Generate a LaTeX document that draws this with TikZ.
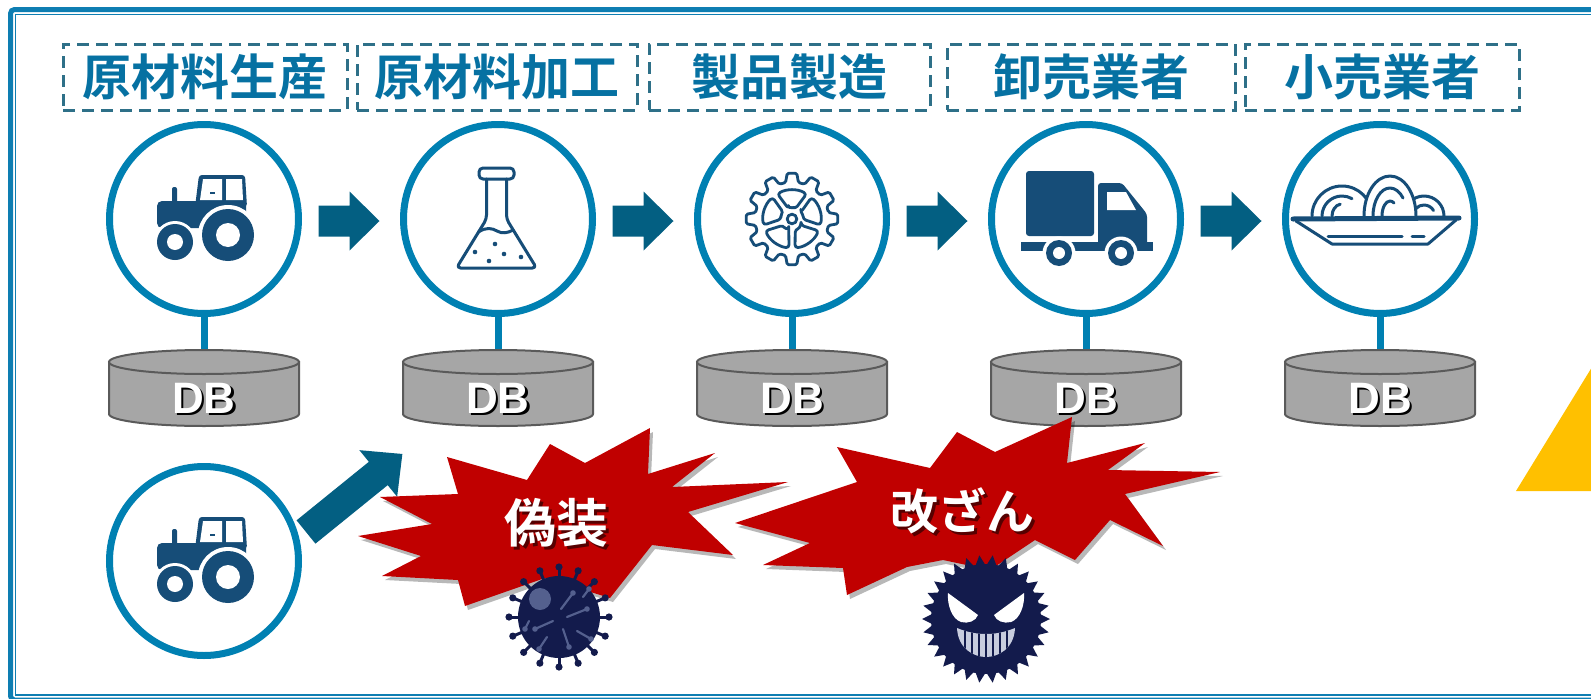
\documentclass[tikz,border=0pt]{standalone}
\usepackage{fontspec}
\usetikzlibrary{calc}
\newfontfamily\jpfont{Noto Sans CJK JP}[BoldFont={* Bold}]
\newfontfamily\dbfont{Liberation Sans}

\definecolor{framec}{RGB}{14,126,178}
\definecolor{circc}{RGB}{0,128,178}
\definecolor{hdrc}{RGB}{6,113,162}
\definecolor{dashc}{RGB}{46,112,136}
\definecolor{arrowc}{RGB}{3,95,130}
\definecolor{iconc}{RGB}{22,77,120}
\definecolor{dbfill}{RGB}{166,166,166}
\definecolor{dbline}{RGB}{90,90,90}
\definecolor{burstc}{RGB}{192,0,0}
\definecolor{virusc}{RGB}{19,27,76}
\definecolor{virusl}{RGB}{84,96,142}
\definecolor{teethc}{RGB}{200,205,222}
\definecolor{warnc}{RGB}{255,192,0}

\tikzset{
  iconline/.style={draw=iconc,line width=3pt,line cap=round,line join=round},
  % tractor: small front wheel left, big rear wheel right
  tractor/.pic={
    \fill[iconc,rounded corners=2pt] (-32,-32) rectangle (-27,-14);
    \fill[iconc,rounded corners=5pt] (-47,-18) rectangle (42,9);
    \fill[iconc,rounded corners=3pt] (-5,-44) -- (41,-44) -- (43,-12) -- (-9,-12) -- cycle;
    \fill[white] (-1,-40) -- (18,-40) -- (18,-19) -- (-4,-19) -- cycle;
    \fill[white] (22,-40) -- (38,-40) -- (39,-19) -- (22,-19) -- cycle;
    \draw[iconc,line width=1.6pt] (6,-26) -- (11,-26);
    \fill[white] (24,16) circle[radius=30];
    \fill[iconc] (24,16) circle[radius=26];
    \fill[white] (24,16) circle[radius=12];
    \fill[white] (-29,23) circle[radius=21];
    \fill[iconc] (-29,23) circle[radius=18];
    \fill[white] (-29,23) circle[radius=8];
  },
  % conical flask with liquid
  flask/.pic={
    \draw[iconline,rounded corners=4pt] (-19,-51) rectangle (16,-40);
    \draw[iconline,rounded corners=4pt] (-11.5,-40) -- (-11.5,0) -- (-41.5,49) -- (38.5,49) -- (8.5,0) -- (8.5,-40);
    \draw[iconline] (-19.5,13) .. controls (-12,8) and (-6,9) .. (-1,12) .. controls (4,15) and (10,14) .. (15,11);
    \foreach \u/\v in {-23/33,-3/25,6/35,23/38,-9/42}
      \fill[iconc] (\u,\v) circle[radius=2.3];
  },
  % gear with five windows
  gear/.pic={
    \draw[iconline,line width=2.8pt,rounded corners=1.5pt] (-10:37)
      \foreach \a in {0,30,...,330}{ -- ({\a-10}:37) -- ({\a-6}:46) -- ({\a+6}:46) -- ({\a+10}:37)} -- cycle;
    \draw[iconline,line width=2.8pt] (0,0) circle[radius=4.8];
    \foreach \a in {270,342,414,486,558}
      \draw[iconline,line width=2.8pt,rounded corners=3pt] ({\a-19}:11) -- ({\a-30}:29)
        arc[start angle=\a-30,end angle=\a+30,radius=29] -- ({\a+19}:11)
        arc[start angle=\a+19,end angle=\a-19,radius=11] -- cycle;
  },
  % delivery truck
  truck/.pic={
    \fill[iconc,rounded corners=3pt] (-60,-48) rectangle (8,17);
    \fill[iconc,rounded corners=3pt] (12,-36) -- (36,-36) -- (61,-5) -- (61,27) -- (12,27) -- cycle;
    \fill[white] (21,-27) -- (40,-27) -- (50,-9) -- (21,-9) -- cycle;
    \fill[iconc] (-65,23) rectangle (67,32);
    \foreach \w in {-27,35}{
      \fill[white] (\w,34) circle[radius=16.5];
      \fill[iconc] (\w,34) circle[radius=13];
      \fill[white] (\w,34) circle[radius=6];
    }
  },
  % plate of noodles
  noodles/.pic={
    \draw[iconline] (-84,2) -- (-48,25) -- (48,25) -- (76,1);
    \draw[iconline] (-52,17) -- (22,17);
    \draw[iconline] (32,17) -- (44,17);
    \filldraw[iconline,fill=white] (-68,-3) arc[start angle=180,end angle=360,x radius=30,y radius=30];
    \draw[iconline] (-58,-3) arc[start angle=180,end angle=300,x radius=20,y radius=20];
    \draw[iconline] (-48,-3) arc[start angle=180,end angle=260,x radius=10,y radius=12];
    \filldraw[iconline,fill=white] (24,-3) arc[start angle=180,end angle=360,x radius=20,y radius=20];
    \draw[iconline] (33,-3) arc[start angle=180,end angle=330,x radius=11,y radius=11];
    \filldraw[iconline,fill=white] (-16,-3) arc[start angle=180,end angle=360,x radius=26,y radius=40];
    \draw[iconline] (-7,-3) arc[start angle=180,end angle=320,x radius=17,y radius=28];
    \draw[iconline] (2,-3) arc[start angle=180,end angle=300,x radius=8,y radius=15];
    \draw[iconc,line width=5pt,line cap=round] (-87,0) -- (79,-1);
  },
  % spiky ball with inner stalks
  virusA/.pic={
    \foreach \a in {0,22.5,...,337.5}{
      \draw[virusc,line width=3pt] (\a:38) -- (\a:48);
      \fill[virusc] (\a:50) circle[radius=3.6];
    }
    \fill[virusc] (0,0) circle[radius=41];
    \fill[virusl] (-19,-18) circle[radius=11];
    \foreach \pa/\pb/\qa/\qb in {2/-8/14/-24,-6/4/-24/12,8/0/28/-8,4/12/10/30,
                                 -12/20/-20/32,18/14/32/22,24/-20/30/-28,-30/4/-34/12}{
      \draw[virusl,line width=2.2pt,line cap=round] (\pa,\pb) -- (\qa,\qb);
      \fill[virusl] (\qa,\qb) circle[radius=2.8];
    }
  },
  % grinning spiky germ
  virusB/.pic={
    \fill[virusc] (0:64) \foreach \i in {0,...,29}{ -- ({\i*12}:64) -- ({\i*12+6}:53)} -- cycle;
    \fill[virusc] (0,0) circle[radius=55];
    \fill[white] (-38,-26) -- (-8,-4) .. controls (-10,2) and (-18,5) .. (-25,3) .. controls (-34,0) and (-39,-14) .. cycle;
    \fill[white] (38,-26) -- (8,-4) .. controls (10,2) and (18,5) .. (25,3) .. controls (34,0) and (39,-14) .. cycle;
    \begin{scope}
      \clip (-29,9) .. controls (-10,17) and (10,17) .. (29,9) .. controls (28,30) and (12,38) .. (0,38) .. controls (-12,38) and (-28,30) .. cycle;
      \fill[teethc] (-30,0) rectangle (30,40);
      \foreach \t in {-21,-14,-7,0,7,14,21}
        \draw[virusc,line width=1.3pt] (\t,0) -- (\t,40);
    \end{scope}
  },
  burstA/.style={insert path={(447,457) -- (527,480) -- (550,444) -- (585,463) -- (650,428) -- (648,474)
     -- (715,453) -- (672,487) -- (788,482) -- (688,512) -- (733,555) -- (652,545) -- (610,598)
     -- (545,578) -- (465,606) -- (458,580) -- (382,576) -- (421,556) -- (358,536) -- (432,524)
     -- (380,497) -- (458,494) -- cycle}},
  burstB/.style={insert path={(837,447) -- (930,468) -- (957,432) -- (995,452) -- (1072,417) -- (1067,463)
     -- (1145,443) -- (1108,470) -- (1220,472) -- (1125,494) -- (1163,546) -- (1110,520)
     -- (1075,560) -- (1035,540) -- (990,570) -- (943,560) -- (907,567) -- (847,595) -- (843,568)
     -- (763,565) -- (810,543) -- (735,523) -- (857,482) -- cycle}},
}

\begin{document}
\begin{tikzpicture}[x=1pt,y=-1pt,
  stage/.style={circle,draw=circc,line width=7pt,minimum size=189pt,inner sep=0pt,fill=white},
  stem/.style={draw=circc,line width=7pt},
  hdrbox/.style={draw=dashc,line width=3pt,dash pattern=on 12pt off 7pt,minimum height=66pt,
    inner sep=0pt,text=hdrc,font=\jpfont\bfseries\fontsize{49}{52}\selectfont},
  dbbody/.style={fill=dbfill,draw=dbline,line width=2pt},
  dbtxt/.style={text=white,inner sep=0pt,font=\dbfont\bfseries\fontsize{44}{44}\selectfont},
  dbshade/.style={dbtxt,text=black},
  bursttxt/.style={text=white,inner sep=0pt,font=\jpfont\bfseries\fontsize{#1}{#1}\selectfont},
  burstshade/.style={bursttxt=#1,text=black,opacity=0.55},
  blockarrow/.style={fill=arrowc},
]
\useasboundingbox (0,0) rectangle (1591,699);
\begin{scope}
\clip (0,0) rectangle (1591,699);

% double frame, running off the right and bottom edges
\draw[framec,line width=5pt,rounded corners=4pt] (10.5,9.5) rectangle (1700,700);
\draw[framec,line width=1.8pt] (15.5,14.5) rectangle (1700,695);

% warning sign peeking in at the right edge
\fill[warnc] (1516,491) -- (1600,354) -- (1600,491) -- cycle;

% stage headers
\node[hdrbox,minimum width=284pt] (h1) at (205,77) {原材料生産};
\node[hdrbox,minimum width=280pt] (h2) at (497,77) {原材料加工};
\node[hdrbox,minimum width=281pt] (h3) at (789.5,77) {製品製造};
\node[hdrbox,minimum width=288pt] (h4) at (1091,77) {卸売業者};
\node[hdrbox,minimum width=274pt] (h5) at (1382,77) {小売業者};

% stage circles
\node[stage] (c1) at (204,219) {};
\node[stage] (c2) at (498,219) {};
\node[stage] (c3) at (792,219) {};
\node[stage] (c4) at (1086,219) {};
\node[stage] (c5) at (1380,219) {};
\node[stage] (c6) at (204,561) {};

\pic at (c1.center) {tractor};
\pic at (c2.center) {flask};
\pic at (c3.center) {gear};
\pic at (c4.center) {truck};
\pic at (c5.center) {noodles};
\pic at (c6.center) {tractor};

% databases under each stage
\foreach \i/\x in {1/204,2/498,3/792,4/1086,5/1380}{
  \coordinate (dbt\i) at (\x,350);
  \draw[stem] (c\i.south) -- (dbt\i);
  \filldraw[dbbody] (\x-95,362) -- (\x-95,414) arc[start angle=180,end angle=0,x radius=95,y radius=12] -- (\x+95,362) -- cycle;
  \filldraw[dbbody] (\x,362) ellipse[x radius=95,y radius=12];
  \node[dbshade] (dbs\i) at (\x+2.5,400.5) {DB};
  \node[dbtxt] (db\i) at (\x,398) {DB};
}

% flow arrows between stages
\foreach \i/\j in {1/2,2/3,3/4,4/5}{
  \begin{scope}[shift={($(c\i.center)!0.5!(c\j.center)+(-2,2)$)}]
    \fill[blockarrow] (-30.5,-15.5) -- (0.5,-15.5) -- (0.5,-29.5) -- (30.5,0) -- (0.5,29.5) -- (0.5,15.5) -- (-30.5,15.5) -- cycle;
  \end{scope}
}

% side entry arrow from the second producer
\coordinate (t6) at (306,532);
\begin{scope}[shift={(t6)},rotate=39]
  \fill[blockarrow] (0,-15) -- (93,-15) -- (93,-30) -- (124,0) -- (93,30) -- (93,15) -- (0,15) -- cycle;
\end{scope}

% starbursts
\fill[black,opacity=0.28,shift={(3,4)},burstA];
\fill[black,opacity=0.28,shift={(3,4)},burstB];
\fill[burstc,burstA];
\fill[burstc,burstB];

\node[burstshade=52] (fakes) at (559,526) {偽装};
\node[bursttxt=52] (fake) at (556,523) {偽装};
\node[burstshade=48] (tampers) at (965,514) {改ざん};
\node[bursttxt=48] (tamper) at (962,511) {改ざん};

% germs
\pic at (559,617) {virusA};
\pic at (986,619) {virusB};

\end{scope}
\end{tikzpicture}
\end{document}
